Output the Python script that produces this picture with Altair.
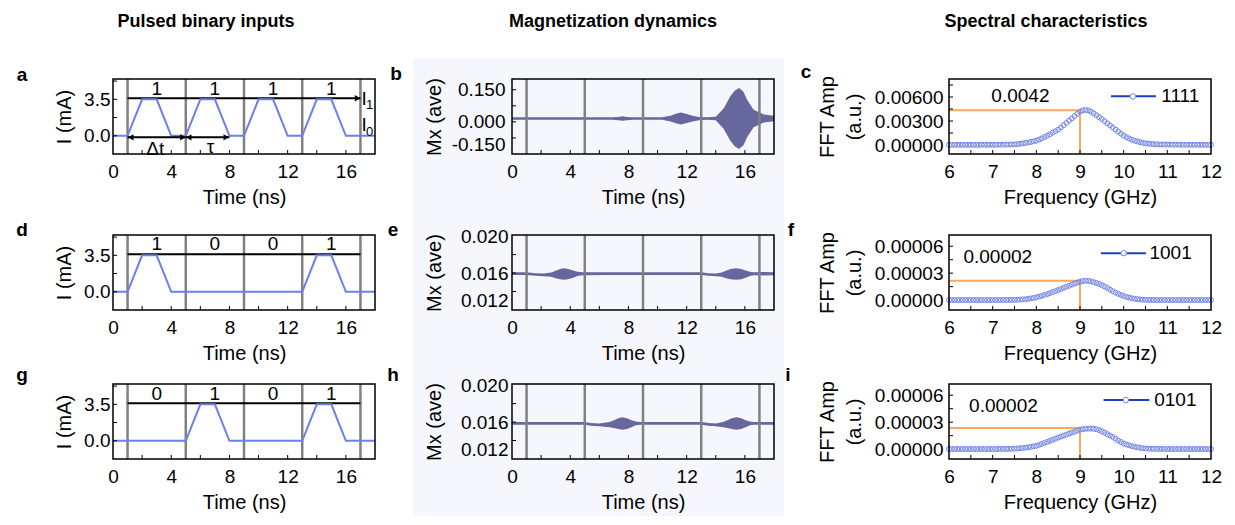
import altair as alt
import pandas as pd

FONT = "Liberation Sans"
W, H = 262, 75
LABEL_SIZE = 19
TITLE_SIZE = 20

# ---------------- Pulsed binary inputs ----------------
SLOT_EDGES_NS = [1, 5, 9, 13, 17]
BIT_CENTERS_NS = [3, 7, 11, 15]
BITS_A = ["1", "1", "1", "1"]
BITS_D = ["1", "0", "0", "1"]
BITS_G = ["0", "1", "0", "1"]
PULSE_T_A = [0, 1, 2, 3, 4, 5, 6, 7, 8, 9, 10, 11, 12, 13, 14, 15, 16, 18]
PULSE_I_A = [0, 0, 3.5, 3.5, 0, 0, 3.5, 3.5, 0, 0, 3.5, 3.5, 0, 0, 3.5, 3.5, 0, 0]
PULSE_T_D = [0, 1, 2, 3, 4, 13, 14, 15, 16, 18]
PULSE_I_D = [0, 0, 3.5, 3.5, 0, 0, 3.5, 3.5, 0, 0]
PULSE_T_G = [0, 5, 6, 7, 8, 13, 14, 15, 16, 18]
PULSE_I_G = [0, 0, 3.5, 3.5, 0, 0, 3.5, 3.5, 0, 0]
I1_LEVEL = 3.6
I1_SPAN = [1, 17]
SPAN_ARROW_Y = -0.15
SPAN_ARROW_X = [1, 8]
ARROW_HEAD_X = [1.22, 4.8, 5.2, 7.78, 16.8]
ARROW_HEAD_Y = [-0.15, -0.15, -0.15, -0.15, 3.6]
ARROW_HEAD_DIR = ["left", "right", "left", "right", "right"]
SPAN_LABELS = ["Δt", "τ"]
SPAN_LABEL_X = [2.9, 6.7]
SPAN_LABEL_Y = [-1.25, -1.05]
LEVEL_LABEL_X = 17.07
LEVEL_LABEL_Y = [3.52, 1.02]
LEVEL_SUB = ["1", "0"]
LEVEL_SUB_X = 17.38
LEVEL_SUB_Y = [2.94, 0.34]

# ---------------- Magnetization dynamics (envelope of the fast oscillation) ----------------
MX_B_T = [0, 6.9, 7.3, 7.6, 7.9, 8.3, 10.3, 10.9, 11.25, 11.6, 11.95, 12.4, 12.85, 13.4,
          14.0, 14.55, 15.0, 15.3, 15.6, 15.9, 16.15, 16.6, 17.3, 18.0]
MX_B_HI = [0.0215, 0.0215, 0.023, 0.026, 0.023, 0.0215, 0.0215, 0.029, 0.0375, 0.0436, 0.0375,
           0.029, 0.023, 0.0215, 0.024, 0.064, 0.119, 0.145, 0.1575, 0.14, 0.103, 0.056, 0.034, 0.028]
MX_B_LO = [0.0095, 0.0095, 0.008, 0.005, 0.008, 0.0095, 0.0095, 0.002, -0.0065, -0.0127, -0.0065,
           0.002, 0.008, 0.0095, 0.007, -0.033, -0.088, -0.114, -0.1266, -0.109, -0.072, -0.025, -0.003, 0.003]

MX_E_T = [0, 1.0, 1.6, 2.2, 2.7, 3.0, 3.3, 3.55, 3.85, 4.2, 4.5, 4.85, 6.8, 13.0, 13.5, 14.0,
          14.4, 14.7, 15.0, 15.42, 15.75, 16.05, 16.35, 16.6, 17.3, 18.0]
MX_E_HI = [0.01608, 0.01608, 0.01598, 0.01594, 0.01605, 0.01625, 0.01645, 0.01652, 0.01645, 0.01628,
           0.01614, 0.01608, 0.01608, 0.01608, 0.01598, 0.01594, 0.01605, 0.01625, 0.01645, 0.01652,
           0.01645, 0.01628, 0.01614, 0.01608, 0.01612, 0.01610]
MX_E_LO = [0.01580, 0.01580, 0.01570, 0.01566, 0.01560, 0.01545, 0.01533, 0.01528, 0.01533, 0.01550,
           0.01568, 0.01577, 0.01580, 0.01580, 0.01570, 0.01566, 0.01560, 0.01545, 0.01533, 0.01528,
           0.01533, 0.01550, 0.01568, 0.01577, 0.01574, 0.01577]

MX_H_T = [0, 5.0, 5.4, 6.0, 6.7, 7.0, 7.3, 7.58, 7.9, 8.2, 8.5, 8.8, 9.5, 13.0, 13.5, 14.0,
          14.5, 14.8, 15.1, 15.42, 15.75, 16.05, 16.35, 16.6, 17.3, 18.0]
MX_H_HI = [0.01600, 0.01600, 0.01590, 0.01585, 0.01600, 0.01620, 0.01640, 0.01651, 0.01640, 0.01620,
           0.01605, 0.01600, 0.01600, 0.01600, 0.01590, 0.01585, 0.01600, 0.01620, 0.01640, 0.01651,
           0.01640, 0.01620, 0.01605, 0.01600, 0.01600, 0.01600]
MX_H_LO = [0.01572, 0.01572, 0.01560, 0.01555, 0.01545, 0.01535, 0.01525, 0.01518, 0.01525, 0.01545,
           0.01565, 0.01572, 0.01572, 0.01572, 0.01560, 0.01555, 0.01545, 0.01535, 0.01525, 0.01518,
           0.01525, 0.01545, 0.01565, 0.01572, 0.01572, 0.01572]

# ---------------- Spectral characteristics ----------------
FREQ_GHZ = [6 + k / 16 for k in range(97)]   # FFT frequency grid
FFT_C_MILLI = [0.02, 0.02, 0.02, 0.02, 0.02, 0.02, 0.02, 0.02, 0.02, 0.02, 0.02, 0.02, 0.03, 0.03, 0.03, 0.03,
               0.03, 0.03, 0.04, 0.04, 0.05, 0.05, 0.06, 0.07, 0.08, 0.11, 0.15, 0.20, 0.25, 0.32, 0.39, 0.46,
               0.54, 0.68, 0.83, 1.00, 1.17, 1.35, 1.54, 1.73, 1.92, 2.20, 2.48, 2.76, 3.04, 3.33, 3.62, 3.90,
               4.17, 4.32, 4.38, 4.32, 4.17, 3.95, 3.72, 3.48, 3.25, 2.98, 2.72, 2.46, 2.20, 1.93, 1.67, 1.41,
               1.17, 0.98, 0.81, 0.66, 0.54, 0.44, 0.35, 0.27, 0.21, 0.17, 0.14, 0.11, 0.09, 0.08, 0.07, 0.06,
               0.05, 0.05, 0.04, 0.04, 0.04, 0.04, 0.03, 0.03, 0.03, 0.03, 0.03, 0.03, 0.02, 0.02, 0.02, 0.02, 0.02]
FFT_F_E5 = [0.01, 0.01, 0.01, 0.01, 0.01, 0.01, 0.01, 0.01, 0.01, 0.01, 0.01, 0.01, 0.01, 0.01, 0.01, 0.01,
            0.01, 0.01, 0.01, 0.01, 0.02, 0.02, 0.02, 0.02, 0.03, 0.04, 0.06, 0.08, 0.10, 0.14, 0.19, 0.24,
            0.30, 0.39, 0.48, 0.57, 0.67, 0.78, 0.89, 1.00, 1.12, 1.24, 1.36, 1.48, 1.60, 1.72, 1.84, 1.95,
            2.05, 2.12, 2.16, 2.14, 2.09, 2.00, 1.90, 1.80, 1.68, 1.52, 1.35, 1.17, 1.00, 0.84, 0.70, 0.57,
            0.45, 0.36, 0.28, 0.21, 0.15, 0.11, 0.07, 0.05, 0.03, 0.02, 0.02, 0.02, 0.01, 0.01, 0.01, 0.01,
            0.01, 0.01, 0.01, 0.01, 0.01, 0.01, 0.01, 0.01, 0.01, 0.01, 0.01, 0.01, 0.01, 0.01, 0.01, 0.01, 0.01]
FFT_I_E5 = [0.01, 0.01, 0.01, 0.01, 0.01, 0.01, 0.01, 0.01, 0.01, 0.01, 0.01, 0.01, 0.01, 0.01, 0.01, 0.01,
            0.01, 0.01, 0.02, 0.02, 0.02, 0.03, 0.03, 0.04, 0.05, 0.07, 0.10, 0.12, 0.15, 0.20, 0.25, 0.31,
            0.37, 0.47, 0.58, 0.69, 0.80, 0.92, 1.04, 1.16, 1.28, 1.39, 1.50, 1.61, 1.72, 1.83, 1.94, 2.05,
            2.16, 2.22, 2.26, 2.28, 2.28, 2.26, 2.22, 2.12, 1.98, 1.83, 1.67, 1.51, 1.35, 1.16, 0.97, 0.79,
            0.62, 0.52, 0.42, 0.34, 0.26, 0.20, 0.14, 0.10, 0.07, 0.05, 0.04, 0.03, 0.02, 0.02, 0.02, 0.02,
            0.01, 0.01, 0.01, 0.01, 0.01, 0.01, 0.01, 0.01, 0.01, 0.01, 0.01, 0.01, 0.01, 0.01, 0.01, 0.01, 0.01]
PEAK_GHZ = 9
PEAK_LEVEL = {"c": 0.00435, "f": 0.0000216, "i": 0.0000235}
PEAK_TEXT = {"c": "0.0042", "f": "0.00002", "i": "0.00002"}
PEAK_TEXT_X = {"c": 6.97, "f": 6.33, "i": 6.46}
PEAK_TEXT_Y = {"c": 0.00608, "f": 0.0000485, "i": 0.0000484}
LEGEND_NAME = {"c": "1111", "f": "1001", "i": "0101"}
LEGEND_X = {"c": [9.71, 10.21, 10.74, 10.86], "f": [9.48, 10.0, 10.51, 10.59], "i": [9.54, 10.05, 10.59, 10.7]}
LEGEND_Y = {"c": 0.00608, "f": 0.0000523, "i": 0.0000546}

# scale domains / ticks
T_DOM = [0, 18]
F_DOM = [6, 12]
I_DOM = [-1.75, 5.45]
MXB_DOM = [-0.15, 0.2]
MXEH_DOM = [0.012, 0.02012]
FC_DOM = [-0.001125, 0.00825]
FFI_DOM = [-0.000011, 0.0000725]
T_TICKS = [2, 4, 6, 8, 10, 12, 14, 16]
F_TICKS = [6.5, 7, 7.5, 8, 8.5, 9, 9.5, 10, 10.5, 11, 11.5]

ONE = pd.DataFrame({"k": [0]})
PULSE_BLUE = "#6a7ff0"
GRAY = "#808080"
MX_COLOR = "#65679d"
ORANGE = "#f8a95c"
POINT_BLUE = "#7284e8"
LEG_BLUE = "#1d3fc4"
BG = "#f5f7fc"


def x_axis(values, title):
    return alt.Axis(values=values, format="d", title=title, labelFlush=False, labelOverlap=False,
                    labelPadding=8, labelFontSize=LABEL_SIZE, titleFontSize=TITLE_SIZE,
                    titleX=W / 2, titleY=43, titleBaseline="middle", zindex=1)


def y_axis(values, title, expr, title_x, pad, lh=20):
    return alt.Axis(values=values, title=title, labelExpr=expr, titleX=title_x, titleY=H / 2,
                    titleAngle=270, titleBaseline="middle", titleLineHeight=lh, labelPadding=pad,
                    labelFontSize=LABEL_SIZE, titleFontSize=TITLE_SIZE,
                    labelFlush=True, labelOverlap=False, zindex=1)


class Enc:
    """Shared x / y encodings of one panel (same scale and axis on every layer)."""

    def __init__(self, xdom, ydom, xaxis, yaxis):
        self.xs = alt.Scale(domain=xdom, nice=False, zero=False)
        self.ys = alt.Scale(domain=ydom, nice=False, zero=False)
        self.xa, self.ya = xaxis, yaxis

    def x(self, f):
        return alt.X(f, type="quantitative", scale=self.xs, axis=self.xa)

    def y(self, f):
        return alt.Y(f, type="quantitative", scale=self.ys, axis=self.ya)


def common(E, xticks, yticks, letter, ldx, ldy):
    tx = alt.Chart(pd.DataFrame({"v": xticks})).mark_rule(color="black", strokeWidth=1).encode(
        x=E.x("v"), y=alt.value(H), y2=alt.value(H - 4))
    ty = alt.Chart(pd.DataFrame({"v": yticks})).mark_rule(color="black", strokeWidth=1).encode(
        y=E.y("v"), x=alt.value(0), x2=alt.value(4))
    frame = alt.Chart(ONE).mark_rect(fillOpacity=0, stroke="black", strokeWidth=1.5).encode(
        x=alt.value(0), x2=alt.value(W), y=alt.value(0), y2=alt.value(H))
    lab = alt.Chart(ONE).mark_text(text=letter, fontWeight="bold", fontSize=19, align="center",
                                   baseline="alphabetic", color="black").encode(
        x=alt.value(ldx), y=alt.value(ldy))
    return [tx, ty, frame, lab]


def col_title(text, dx, dy):
    return alt.Chart(ONE).mark_text(text=text, fontWeight="bold", fontSize=18, align="center",
                                    baseline="alphabetic", color="black").encode(
        x=alt.value(dx), y=alt.value(dy))


TIME_AXIS = x_axis([0, 4, 8, 12, 16], "Time (ns)")
FREQ_AXIS = x_axis([6, 7, 8, 9, 10, 11, 12], "Frequency (GHz)")
I_AXIS = y_axis([0, 3.5], "I (mA)", "format(datum.value, '.1f')", -49, 3)


def pulse_panel(t, cur, bits, bit_y, letter, ldx, ldy, head=None, extra=None):
    E = Enc(T_DOM, I_DOM, TIME_AXIS, I_AXIS)
    layers = list(head or [])
    layers.append(alt.Chart(pd.DataFrame({"t": SLOT_EDGES_NS})).mark_rule(color=GRAY, strokeWidth=2.5)
                  .encode(x=E.x("t")))
    layers.append(alt.Chart(pd.DataFrame({"x0": [I1_SPAN[0]], "x1": [I1_SPAN[1]], "y": [I1_LEVEL]}))
                  .mark_rule(color="black", strokeWidth=2).encode(x=E.x("x0"), x2="x1", y=E.y("y")))
    layers.append(alt.Chart(pd.DataFrame({"t": t, "i": cur})).mark_line(color=PULSE_BLUE, strokeWidth=2)
                  .encode(x=E.x("t"), y=E.y("i")))
    layers.append(alt.Chart(pd.DataFrame({"x": BIT_CENTERS_NS, "b": bits, "y": [bit_y] * 4}))
                  .mark_text(fontSize=LABEL_SIZE, align="center", baseline="middle", color="black")
                  .encode(x=E.x("x"), y=E.y("y"), text="b:N"))
    for mk in (extra or []):
        layers.append(mk(E))
    layers += common(E, T_TICKS, [0, 1.75, 3.5, 5.25], letter, ldx, ldy)
    return alt.layer(*layers).properties(width=W, height=H)


def mx_panel(t, hi, lo, ydom, yvals, expr, pad, letter, ldx, ldy, yticks, head=None):
    E = Enc(T_DOM, ydom, TIME_AXIS, y_axis(yvals, "Mx (ave)", expr, -78, pad))
    layers = list(head or [])
    layers.append(alt.Chart(pd.DataFrame({"t": t, "hi": hi, "lo": lo})).mark_area(color=MX_COLOR, opacity=1)
                  .encode(x=E.x("t"), y=E.y("hi"), y2="lo"))
    layers.append(alt.Chart(pd.DataFrame({"t": SLOT_EDGES_NS})).mark_rule(color=GRAY, strokeWidth=2.5)
                  .encode(x=E.x("t")))
    layers += common(E, T_TICKS, yticks, letter, ldx, ldy)
    return alt.layer(*layers).properties(width=W, height=H)


def fft_panel(key, amp, ydom, yvals, yticks, letter, ldx, ldy, head=None):
    E = Enc(F_DOM, ydom, FREQ_AXIS,
            y_axis(yvals, ["FFT Amp", "(a.u.)"], "format(datum.value, '.5f')", -122, 6, lh=27))
    layers = list(head or [])
    level = PEAK_LEVEL[key]
    layers.append(alt.Chart(pd.DataFrame({"x0": [F_DOM[0]], "x1": [PEAK_GHZ], "y": [level]}))
                  .mark_rule(color=ORANGE, strokeWidth=2).encode(x=E.x("x0"), x2="x1", y=E.y("y")))
    layers.append(alt.Chart(pd.DataFrame({"x": [PEAK_GHZ], "y0": [ydom[0]], "y1": [level]}))
                  .mark_rule(color=ORANGE, strokeWidth=2).encode(x=E.x("x"), y=E.y("y0"), y2="y1"))
    layers.append(alt.Chart(pd.DataFrame({"f": FREQ_GHZ, "a": amp}))
                  .mark_point(shape="circle", filled=False, size=24, strokeWidth=1, color=POINT_BLUE, opacity=1)
                  .encode(x=E.x("f"), y=E.y("a")))
    layers.append(alt.Chart(pd.DataFrame({"x": [PEAK_TEXT_X[key]], "y": [PEAK_TEXT_Y[key]], "s": [PEAK_TEXT[key]]}))
                  .mark_text(fontSize=LABEL_SIZE, align="left", baseline="middle", color="black")
                  .encode(x=E.x("x"), y=E.y("y"), text="s:N"))
    lx = LEGEND_X[key]
    ly = LEGEND_Y[key]
    layers.append(alt.Chart(pd.DataFrame({"x0": [lx[0]], "x1": [lx[2]], "y": [ly]}))
                  .mark_rule(color=LEG_BLUE, strokeWidth=2).encode(x=E.x("x0"), x2="x1", y=E.y("y")))
    layers.append(alt.Chart(pd.DataFrame({"x": [lx[1]], "y": [ly]}))
                  .mark_point(shape="circle", filled=True, fill="white", stroke=POINT_BLUE, strokeWidth=1,
                              size=30, opacity=1).encode(x=E.x("x"), y=E.y("y")))
    layers.append(alt.Chart(pd.DataFrame({"x": [lx[3]], "y": [ly], "s": [LEGEND_NAME[key]]}))
                  .mark_text(fontSize=LABEL_SIZE, align="left", baseline="middle", color="black")
                  .encode(x=E.x("x"), y=E.y("y"), text="s:N"))
    layers += common(E, F_TICKS, yticks, letter, ldx, ldy)
    return alt.layer(*layers).properties(width=W, height=H)


def spacer(w, h):
    return alt.Chart(ONE).mark_point(opacity=0, size=1).encode(x=alt.value(0), y=alt.value(0)).properties(
        width=w, height=h)


# ---- panel a extras (built with the panel's own encodings) ----
anchor = alt.Chart(ONE).mark_rect(opacity=0).encode(
    x=alt.value(-112), x2=alt.value(-111), y=alt.value(-78), y2=alt.value(-77))
a_extra = [
    lambda E: alt.Chart(pd.DataFrame({"x0": [SPAN_ARROW_X[0]], "x1": [SPAN_ARROW_X[1]], "y": [SPAN_ARROW_Y]}))
    .mark_rule(color="black", strokeWidth=2).encode(x=E.x("x0"), x2="x1", y=E.y("y")),
    lambda E: alt.Chart(pd.DataFrame({"x": ARROW_HEAD_X, "y": ARROW_HEAD_Y, "d": ARROW_HEAD_DIR}))
    .mark_point(filled=True, color="black", size=40, opacity=1)
    .encode(x=E.x("x"), y=E.y("y"),
            shape=alt.Shape("d:N", scale=alt.Scale(domain=["left", "right"],
                                                   range=["triangle-left", "triangle-right"]), legend=None)),
    lambda E: alt.Chart(pd.DataFrame({"x": SPAN_LABEL_X, "y": SPAN_LABEL_Y, "s": SPAN_LABELS}))
    .mark_text(fontSize=LABEL_SIZE, align="center", baseline="middle", color="black")
    .encode(x=E.x("x"), y=E.y("y"), text="s:N"),
    lambda E: alt.Chart(pd.DataFrame({"x": [LEVEL_LABEL_X] * 2, "y": LEVEL_LABEL_Y, "s": ["I", "I"]}))
    .mark_text(fontSize=LABEL_SIZE, align="left", baseline="middle", color="black")
    .encode(x=E.x("x"), y=E.y("y"), text="s:N"),
    lambda E: alt.Chart(pd.DataFrame({"x": [LEVEL_SUB_X] * 2, "y": LEVEL_SUB_Y, "s": LEVEL_SUB}))
    .mark_text(fontSize=13, align="left", baseline="middle", color="black")
    .encode(x=E.x("x"), y=E.y("y"), text="s:N"),
]

bg = alt.Chart(ONE).mark_rect(color=BG, opacity=1).encode(
    x=alt.value(-99), x2=alt.value(272), y=alt.value(-21), y2=alt.value(437))

pa = pulse_panel(PULSE_T_A, PULSE_I_A, BITS_A, 4.45, "a", -91, 2,
                 head=[anchor, col_title("Pulsed binary inputs", 93, -52)], extra=a_extra)
pd_ = pulse_panel(PULSE_T_D, PULSE_I_D, BITS_D, 4.6, "d", -91, 1)
pg = pulse_panel(PULSE_T_G, PULSE_I_G, BITS_G, 4.45, "g", -91, -3)

neg_expr = "(datum.value < 0 ? '-' : '') + format(abs(datum.value), '.3f')"
eh_expr = "format(datum.value, '.3f')"
pb = mx_panel(MX_B_T, MX_B_HI, MX_B_LO, MXB_DOM, [-0.15, 0, 0.15], neg_expr, 7, "b", -116, 1,
              [-0.075, 0, 0.075, 0.15], head=[bg, col_title("Magnetization dynamics", 101, -52)])
pe = mx_panel(MX_E_T, MX_E_HI, MX_E_LO, MXEH_DOM, [0.012, 0.016, 0.02], eh_expr, 4, "e", -119, 1,
              [0.014, 0.016, 0.018])
ph = mx_panel(MX_H_T, MX_H_HI, MX_H_LO, MXEH_DOM, [0.012, 0.016, 0.02], eh_expr, 4, "h", -119, -3,
              [0.014, 0.016, 0.018])

pc = fft_panel("c", [v * 1e-3 for v in FFT_C_MILLI], FC_DOM, [0, 0.003, 0.006],
               [0.0015, 0.003, 0.0045, 0.006, 0.0075], "c", -143, -1,
               head=[col_title("Spectral characteristics", 97, -52)])
pf = fft_panel("f", [v * 1e-5 for v in FFT_F_E5], FFI_DOM, [0, 0.00003, 0.00006],
               [0.000015, 0.00003, 0.000045, 0.00006], "f", -158, 1)
pi = fft_panel("i", [v * 1e-5 for v in FFT_I_E5], FFI_DOM, [0, 0.00003, 0.00006],
               [0.000015, 0.00003, 0.000045, 0.00006], "i", -161, -3)

GAP12, GAP23 = 137, 175
cells = [
    pa, spacer(GAP12, 1), pb, spacer(GAP23, 1), pc,
    spacer(W, 81), spacer(GAP12, 1), spacer(W, 1), spacer(GAP23, 1), spacer(W, 1),
    pd_, spacer(GAP12, 1), pe, spacer(GAP23, 1), pf,
    spacer(W, 74), spacer(GAP12, 1), spacer(W, 1), spacer(GAP23, 1), spacer(W, 1),
    pg, spacer(GAP12, 1), ph, spacer(GAP23, 1), pi,
]

chart = alt.concat(*cells, columns=5, spacing=0, bounds="flush").properties(
    padding=0
).configure(font=FONT).configure_view(stroke="transparent").configure_axis(
    ticks=False, tickSize=0, domain=False, grid=False, labelFont=FONT, titleFont=FONT,
    labelFontSize=LABEL_SIZE, titleFontSize=TITLE_SIZE, labelColor="black", titleColor="black",
    titleFontWeight="normal"
)

chart.save("out.html", embed_options={"renderer": "svg", "actions": False})
